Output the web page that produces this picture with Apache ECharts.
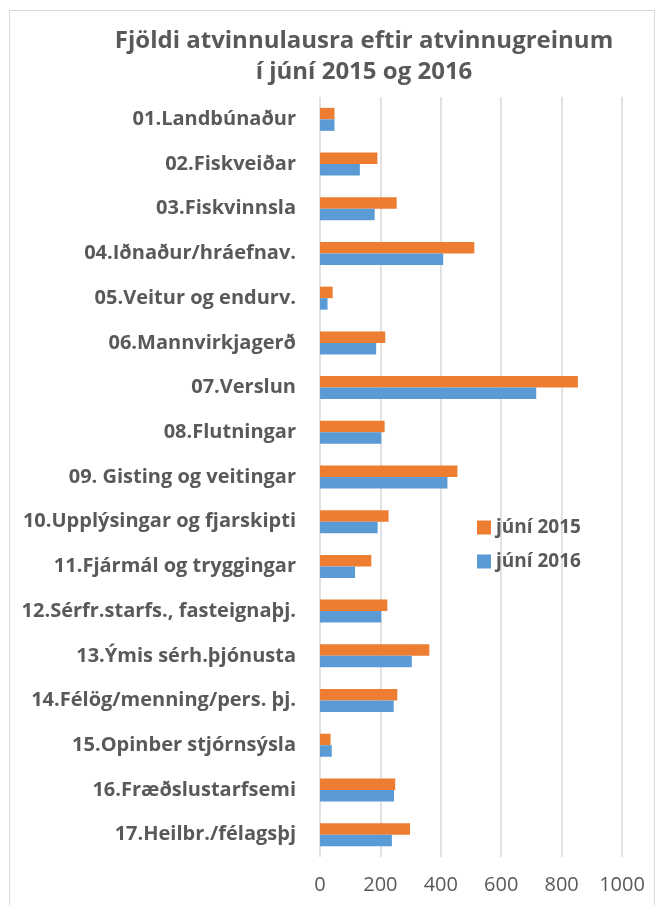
<!DOCTYPE html>
<html><head><meta charset="utf-8">
<script src="https://cdn.jsdelivr.net/npm/echarts@6/dist/echarts.min.js"></script>
<style>
html,body{margin:0;padding:0;background:#fff;}
#frame{position:absolute;left:9px;top:10px;width:646px;height:900px;border:1px solid #d9d9d9;box-sizing:border-box;}
#c{position:absolute;left:0;top:0;width:662px;height:905px;}
</style></head>
<body><div id="frame"></div><div id="c"></div>
<script>
const categories = ["01.Landbúnaður","02.Fiskveiðar","03.Fiskvinnsla","04.Iðnaður/hráefnav.","05.Veitur og endurv.","06.Mannvirkjagerð","07.Verslun","08.Flutningar","09. Gisting og veitingar","10.Upplýsingar og fjarskipti","11.Fjármál og tryggingar","12.Sérfr.starfs., fasteignaþj.","13.Ýmis sérh.þjónusta","14.Félög/menning/pers. þj.","15.Opinber stjórnsýsla","16.Fræðslustarfsemi","17.Heilbr./félagsþj"];
const june2015 = [48,190,254,511,42,216,854,214,455,227,170,223,362,256,35,249,298];
const june2016 = [48,132,181,408,25,186,716,203,422,191,116,203,304,244,39,245,238];
const seriesNames = ["júní 2015","júní 2016"];
const xTicks = [0,200,400,600,800,1000];

const chart = echarts.init(document.getElementById('c'));
const font = '"Open Sans", "Noto Sans", sans-serif';
chart.setOption({
  animation:false,
  textStyle:{fontFamily:font},
  title:{text:'Fjöldi atvinnulausra eftir atvinnugreinum\ní júní 2015 og 2016',left:359,textAlign:'center',top:21,
    textStyle:{fontFamily:font,fontSize:24,fontWeight:'bold',color:'#595959',lineHeight:31}},
  legend:{orient:'vertical',left:472,top:513,itemWidth:14,itemHeight:14,itemGap:15,icon:'rect',
    textStyle:{fontFamily:font,fontSize:19,fontWeight:'bold',color:'#595959',padding:[0,0,0,0]},data:seriesNames},
  grid:{left:320,width:302,top:97,height:760,containLabel:false},
  xAxis:{type:'value',min:0,max:1000,interval:200,
    axisLine:{show:false},axisTick:{show:false},
    axisLabel:{fontFamily:font,fontSize:20,color:'#595959',margin:18,
      formatter:v=>xTicks.includes(v)?String(v):''},
    splitLine:{lineStyle:{color:'#d9d9d9',width:1.5}}},
  yAxis:{type:'category',data:categories,inverse:true,
    axisLine:{show:false},axisTick:{show:false},
    axisLabel:{fontFamily:font,fontSize:20,fontWeight:'bold',color:'#595959',margin:24}},
  series:[
    {name:seriesNames[0],type:'bar',data:june2015,barWidth:11.5,barGap:'0%',itemStyle:{color:'#ed7d31'}},
    {name:seriesNames[1],type:'bar',data:june2016,barWidth:11.5,barGap:'0%',itemStyle:{color:'#5b9bd5'}}
  ]
});
</script></body></html>
